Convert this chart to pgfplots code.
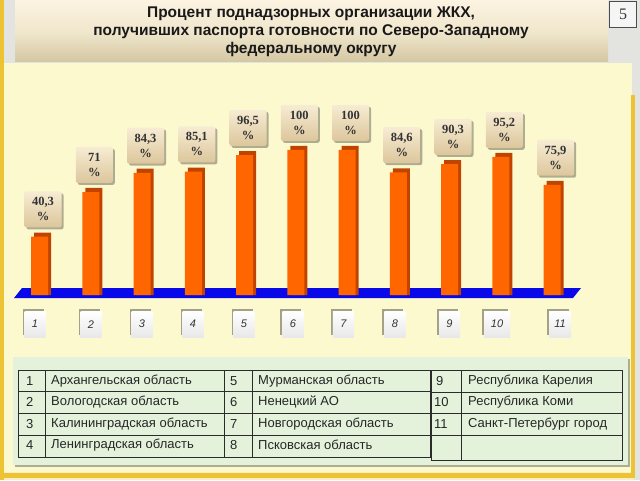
\documentclass[border=0pt]{standalone}
\usepackage{pgfplots}
\pgfplotsset{compat=1.18}
\usepackage{pgfplotstable}
\usepackage{fontspec}
\setmainfont{Liberation Serif}
\setsansfont{Liberation Sans}
\usetikzlibrary{shadows}
\definecolor{goldc}{HTML}{EDC233}
\definecolor{panelc}{HTML}{FCF9CF}
\definecolor{creamc}{HTML}{F4EFC6}
\definecolor{grayc}{HTML}{E3E3E0}
\definecolor{barfront}{HTML}{FF6600}
\definecolor{barside}{HTML}{C04400}
\definecolor{bandc}{HTML}{0808E8}
\definecolor{tabbg}{HTML}{E4F2DC}
\definecolor{labtop}{HTML}{F7ECD3}
\definecolor{labbot}{HTML}{DCC69C}
\definecolor{titletop}{HTML}{FCF3E2}
\definecolor{titlemid}{HTML}{F1E7CD}
\definecolor{titlebot}{HTML}{D3C7A3}
\definecolor{linec}{HTML}{2B2B2B}

\pgfplotstableread{
x v lab
1 40.3 40,3
2 71 71
3 84.3 84,3
4 85.1 85,1
5 96.5 96,5
6 100 100
7 100 100
8 84.6 84,6
9 90.3 90,3
10 95.2 95,2
11 75.9 75,9
}\data

\begin{document}
\begin{tikzpicture}[x=1pt,y=1pt]
\useasboundingbox (0,0) rectangle (640,480);
\clip (0,0) rectangle (640,480);
% background
\fill[creamc] (0,0) rectangle (640,480);
\fill[grayc] (0,417) rectangle (640,480);
\fill[grayc] (600,385) rectangle (640,480);
\fill[grayc] (634,0) rectangle (640,480);
\fill[panelc] (4,8) rectangle (632,417);
\fill[goldc] (0,0) rectangle (3.5,480);
\fill[goldc] (631,2) rectangle (634.5,385);
\fill[goldc] (0,2) rectangle (634.5,7);
% title
\shade[top color=titletop, bottom color=titlebot, middle color=titlemid] (15,418) rectangle (608,480);
\node[font=\sffamily\bfseries\fontsize{15.5}{18}\selectfont, align=center, text=black!90] at (311,448)
  {Процент поднадзорных организации ЖКХ,\\получивших паспорта готовности по Северо-Западному\\федеральному округу};
\node[draw=black!70, line width=0.8pt, fill=white!92!gray, minimum width=27pt, minimum height=26pt, inner sep=0pt,
  font=\fontsize{16}{16}\selectfont, text=black!80] at (623,466) {5};
% floor band
\fill[bandc] (14,182) -- (22,192) -- (581,192) -- (573,182) -- cycle;
% chart
\begin{axis}[
  at={(-10.25pt,185pt)}, anchor=south west,
  x=51.25pt, y=1.45pt,
  xmin=0, xmax=11.8, ymin=0, ymax=110,
  clip=false,
  axis x line*=bottom, axis y line=none,
  axis line style={draw=none},
  major tick length=0pt,
  xtick={0.883,1.976,2.971,3.966,4.961,5.917,6.902,7.907,8.971,9.898,11.127},
  xticklabels={1,2,3,4,5,6,7,8,9,\makebox[24pt]{10},\makebox[20pt]{11}},
  xticklabel style={font=\sffamily\itshape\fontsize{11}{11}\selectfont, text=black!80,
    top color=white, bottom color=gray!18, minimum width=21pt, minimum height=26pt,
    inner sep=1pt, anchor=north, yshift=-16pt,
    drop shadow={shadow xshift=-2pt, shadow yshift=2pt, fill=black, opacity=0.35}},
]
\addplot[ybar, bar width=17pt, bar shift=1.5pt, fill=barside, draw=none]
  table[x=x, y expr=\thisrow{v}+2.8] {\data};
\addplot[ybar, bar width=17pt, bar shift=-1.5pt, fill=barfront, draw=none,
  point meta=explicit symbolic,
  nodes near coords={\pgfplotspointmeta\\\%},
  every node near coord/.append style={font=\bfseries\fontsize{12.5}{15}\selectfont, align=center,
    text=black!80, top color=labtop, bottom color=labbot, rounded corners=2pt,
    minimum width=37pt, minimum height=36pt, inner sep=0pt, anchor=south, yshift=9pt, xshift=2pt,
    drop shadow={shadow xshift=2pt, shadow yshift=-2pt, fill=black, opacity=0.3}}]
  table[x=x, y=v, meta=lab] {\data};
\end{axis}
% legend table panel
\fill[tabbg, drop shadow={shadow xshift=2pt, shadow yshift=-2pt, fill=black, opacity=0.3}] (13,15) rectangle (628,123);
\begin{scope}[draw=linec, line width=0.8pt]
\draw (18,110) rectangle (430,23);
\draw (45,110) -- (45,23) (224,110) -- (224,23) (252,110) -- (252,23);
\draw (18,88.5) -- (430,88.5) (18,67) -- (430,67) (18,45) -- (430,45);
\draw (431,110) rectangle (622,20);
\draw (461,110) -- (461,20);
\draw (431,88) -- (622,88) (431,67) -- (622,67) (431,45) -- (622,45);
\end{scope}
\begin{scope}[every node/.style={font=\sffamily\fontsize{13}{15}\selectfont, text=black!85, anchor=west, inner sep=0pt}]
\node at (26,99) {1};  \node at (51,99) {Архангельская область};
\node at (26,78) {2};  \node at (51,78) {Вологодская область};
\node at (26,56) {3};  \node at (51,56) {Калининградская область};
\node at (26,35) {4};  \node at (51,35) {Ленинградская область};
\node at (230,99) {5}; \node at (258,99) {Мурманская область};
\node at (230,78) {6}; \node at (258,78) {Ненецкий АО};
\node at (230,56) {7}; \node at (258,56) {Новгородская область};
\node at (230,35) {8}; \node at (258,35) {Псковская область};
\node at (436,99) {9};  \node at (434,78) {10}; \node at (434,56) {11};
\node at (468,99) {Республика Карелия};
\node at (468,78) {Республика Коми};
\node at (468,56) {Санкт-Петербург город};
\end{scope}
\end{tikzpicture}
\end{document}
